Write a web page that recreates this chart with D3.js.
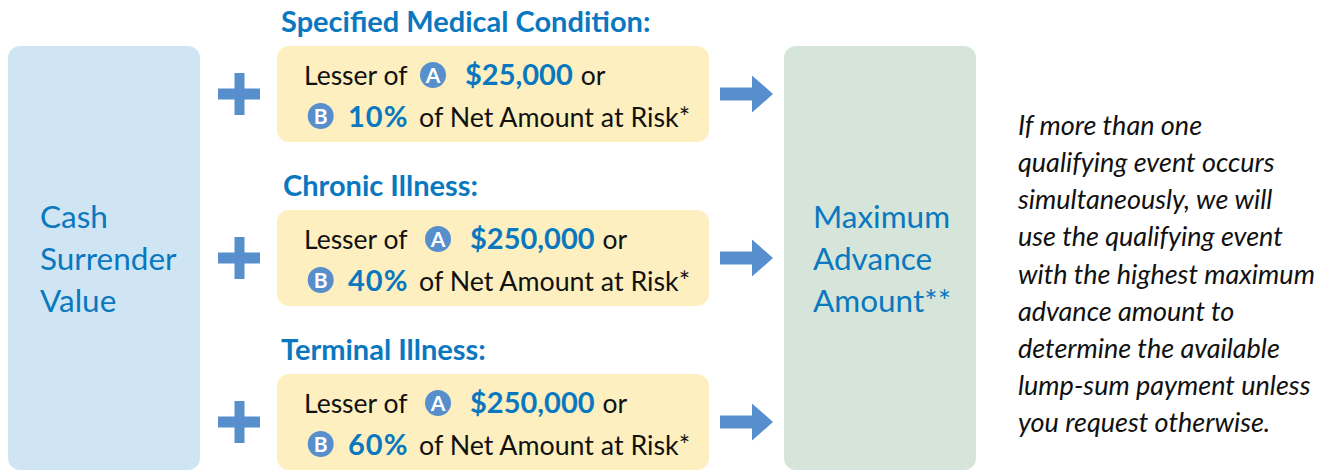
<!DOCTYPE html>
<html><head><meta charset="utf-8">
<script src="https://cdn.jsdelivr.net/npm/d3@7"></script>
<style>
html,body{margin:0;padding:0;background:#fff;}
svg{display:block;font-family:Lato, "Open Sans", sans-serif;}
</style></head>
<body><svg id="c" width="1338" height="472"></svg>
<script>
// ---- data ----
const conditions = ["Specified Medical Condition:", "Chronic Illness:", "Terminal Illness:"];
const amountsA = ["$25,000", "$250,000", "$250,000"];
const percentsB = ["10%", "40%", "60%"];
const leftLabel = ["Cash", "Surrender", "Value"];
const resultLabel = ["Maximum", "Advance", "Amount**"];
const noteLines = ["If more than one", "qualifying event occurs", "simultaneously, we will",
  "use the qualifying event", "with the highest maximum", "advance amount to",
  "determine the available", "lump-sum payment unless", "you request otherwise."];

// ---- styles ----
const BLUE_TXT = "#0a78bf", MARK = "#568fcb", LEFT_BG = "#cfe5f4", YEL = "#fdefbf", GRN = "#d5e5da", INK = "#111";

const svg = d3.select("#c");
const rowY = d3.scalePoint().domain(d3.range(conditions.length)).range([46, 374]);
const boxH = 96;

svg.append("rect").attr("x", 8).attr("y", 46).attr("width", 192).attr("height", 424)
  .attr("rx", 12).attr("fill", LEFT_BG);
svg.append("rect").attr("x", 784).attr("y", 46).attr("width", 192).attr("height", 424)
  .attr("rx", 12).attr("fill", GRN);

const bigY = d3.scalePoint().domain(d3.range(3)).range([228, 312]);
svg.append("g").selectAll("text").data(leftLabel).join("text")
  .attr("x", 40).attr("y", (d, i) => bigY(i)).attr("fill", BLUE_TXT)
  .attr("font-size", 31.5).text(d => d);
svg.append("g").selectAll("text").data(resultLabel).join("text")
  .attr("x", 813).attr("y", (d, i) => bigY(i)).attr("fill", BLUE_TXT)
  .attr("font-size", 31.5).text(d => d);

const rows = svg.append("g").selectAll("g").data(conditions).join("g")
  .attr("transform", (d, i) => `translate(0,${rowY(i)})`);

rows.append("text").attr("x", (d, i) => i === 1 ? 283 : 281).attr("y", -14).attr("fill", BLUE_TXT)
  .attr("font-weight", 700).attr("font-size", 29).text(d => d);
rows.append("rect").attr("x", 277).attr("y", 0).attr("width", 432).attr("height", boxH)
  .attr("rx", 12).attr("fill", YEL);
const cy = boxH / 2;
rows.append("rect").attr("x", 218).attr("y", cy - 5.5).attr("width", 42).attr("height", 11).attr("fill", MARK);
rows.append("rect").attr("x", 234.5).attr("y", cy - 21).attr("width", 10).attr("height", 42).attr("fill", MARK);
rows.append("path").attr("fill", MARK).attr("d", () => {
  const p = d3.path();
  p.moveTo(720, cy - 6.5); p.lineTo(752, cy - 6.5); p.lineTo(752, cy - 18.5);
  p.lineTo(773, cy); p.lineTo(752, cy + 18.5); p.lineTo(752, cy + 6.5);
  p.lineTo(720, cy + 6.5); p.closePath(); return p.toString();
});

const R = 13;
rows.each(function (d, i) {
  const g = d3.select(this);
  g.append("text").attr("x", 304).attr("y", 38.5).attr("font-size", 26.5).attr("fill", INK).text("Lesser of");
  const ca = i === 0 ? 433 : 438;
  g.append("circle").attr("cx", ca).attr("cy", 29).attr("r", R).attr("fill", MARK);
  g.append("text").attr("x", ca).attr("y", 36.5).attr("text-anchor", "middle").attr("fill", "#fff")
    .attr("font-weight", 700).attr("font-size", 21).text("A");
  const amt = g.append("text").attr("x", ca + 32).attr("y", 38.5).attr("font-size", 29)
    .attr("font-weight", 700).attr("fill", BLUE_TXT).text(amountsA[i]);
  const aw = amt.node().getComputedTextLength();
  g.append("text").attr("x", ca + 32 + aw + 8).attr("y", 38.5).attr("font-size", 26.5).attr("fill", INK).text("or");
  const cb = 320.7;
  g.append("circle").attr("cx", cb).attr("cy", 70).attr("r", R).attr("fill", MARK);
  g.append("text").attr("x", cb).attr("y", 77.5).attr("text-anchor", "middle").attr("fill", "#fff")
    .attr("font-weight", 700).attr("font-size", 21).text("B");
  g.append("text").attr("x", 348).attr("y", 80.5).attr("font-size", 29).attr("letter-spacing", 1)
    .attr("font-weight", 700).attr("fill", BLUE_TXT).text(percentsB[i]);
  g.append("text").attr("x", 419).attr("y", 80.5).attr("font-size", 26.8).attr("fill", INK)
    .text("of Net Amount at Risk*");
});

const noteY = d3.scaleLinear().domain([0, noteLines.length - 1]).range([135, 432]);
svg.append("g").selectAll("text").data(noteLines).join("text")
  .attr("x", 1018).attr("y", (d, i) => noteY(i)).attr("font-style", "italic")
  .attr("font-size", 27).attr("fill", INK).text(d => d);
</script></body></html>
